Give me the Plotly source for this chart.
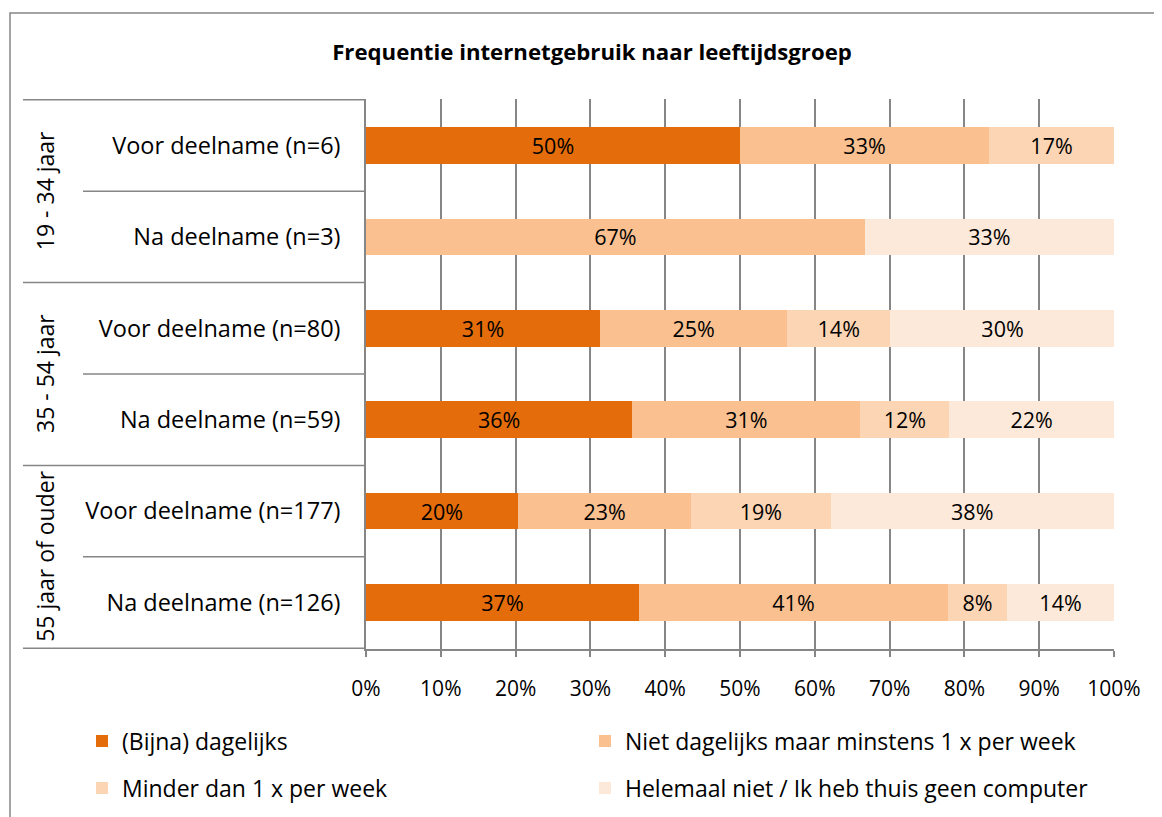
import math
import plotly.graph_objects as go

# ---- data ----
row_labels = ["Voor deelname (n=6)", "Na deelname (n=3)",
              "Voor deelname (n=80)", "Na deelname (n=59)",
              "Voor deelname (n=177)", "Na deelname (n=126)"]
group_labels = ["19 - 34 jaar", "35 - 54 jaar", "55 jaar of ouder"]
series_names = ["(Bijna) dagelijks",
                "Niet dagelijks maar minstens 1 x per week",
                "Minder dan 1 x per week",
                "Helemaal niet / Ik heb thuis geen computer"]
dagelijks = [50.0, 0.0, 31.3, 35.6, 20.3, 36.5]
wekelijks = [33.3, 66.7, 25.0, 30.5, 23.2, 41.3]
minder = [16.7, 0.0, 13.8, 11.9, 18.6, 7.9]
helemaal = [0.0, 33.3, 30.0, 22.0, 37.9, 14.3]
x_ticks = [0, 10, 20, 30, 40, 50, 60, 70, 80, 90, 100]

series_values = [dagelijks, wekelijks, minder, helemaal]
colors = ["#E46C0A", "#FAC090", "#FCD5B5", "#FDE9D9"]

FONT = "Open Sans"
W, H = 1162, 817
OFF = 8  # page body margin
ML, MT = 366 - OFF, 99 - OFF
MR, MB = W - (1114 - OFF), H - (649 - OFF)
PW, PH = W - ML - MR, H - MT - MB


def fx(px):  # reference pixel x -> paper x
    return (px - 366) / PW


def fy(py):  # reference pixel y -> paper y
    return (649 - py) / PH


def pct(v):
    return f"{int(math.floor(v + 0.5))}%" if v > 0 else ""


fig = go.Figure()
for i, (name, vals, col) in enumerate(zip(series_names, series_values, colors)):
    fig.add_trace(go.Bar(
        y=row_labels, x=vals, name=name, orientation="h",
        marker=dict(color=col, line=dict(width=0)),
        text=[pct(v) for v in vals],
        textposition="inside", insidetextanchor="middle", textangle=0,
        textfont=dict(family=FONT, size=21.5, color="black"),
        constraintext="none",
        hoverinfo="skip",
        legend="legend" if i < 2 else "legend2",
    ))

legend_common = dict(orientation="h", x=fx(82), xanchor="left", yanchor="middle",
                     entrywidth=458, entrywidthmode="pixels",
                     font=dict(family=FONT, size=23), itemwidth=30,
                     traceorder="normal", bgcolor="rgba(0,0,0,0)")

fig.update_layout(
    width=W, height=H,
    margin=dict(l=ML, r=MR, t=MT, b=MB, autoexpand=False),
    barmode="stack", bargap=0.6,
    plot_bgcolor="white", paper_bgcolor="white",
    font=dict(family=FONT, size=21, color="black"),
    title=dict(text="<b>Frequentie internetgebruik naar leeftijdsgroep</b>",
               x=(592 - OFF) / W, xanchor="center", y=1 - (52 - OFF) / H,
               yanchor="middle",
               font=dict(family=FONT, size=22.2, color="black")),
    xaxis=dict(range=[0, 100], tickvals=x_ticks,
               ticktext=[f"{t}%" for t in x_ticks],
               showgrid=True, gridcolor="#868686", gridwidth=1.5,
               showline=True, linecolor="#868686", linewidth=1.5,
               ticks="outside", ticklen=6, tickcolor="#868686", tickwidth=1.5,
               ticklabelstandoff=14,
               tickfont=dict(family=FONT, size=21), zeroline=False,
               fixedrange=True, automargin=False),
    yaxis=dict(categoryorder="array", categoryarray=row_labels,
               autorange="reversed", showline=True, linecolor="#868686",
               linewidth=1.5, ticks="", ticklabelstandoff=19,
               tickfont=dict(family=FONT, size=23.5), showgrid=False,
               fixedrange=True, automargin=False),
    legend=dict(legend_common, y=fy(741)),
    legend2=dict(legend_common, y=fy(788)),
    showlegend=True,
)

shapes = []
# outer chart border
shapes.append(dict(type="rect", xref="paper", yref="paper",
                   x0=fx(10), x1=fx(1200), y0=fy(850), y1=fy(13),
                   line=dict(color="#868686", width=1.5), fillcolor="rgba(0,0,0,0)",
                   layer="below"))
# category dividers
for k in range(len(row_labels) + 1):
    yb = k - 0.5
    x0 = 23 if k % 2 == 0 else 83
    shapes.append(dict(type="line", xref="paper", yref="y",
                       x0=fx(x0), x1=0, y0=yb, y1=yb,
                       line=dict(color="#868686", width=1.5)))
fig.update_layout(shapes=shapes)

# group labels
for g, lab in enumerate(group_labels):
    fig.add_annotation(text=lab, xref="paper", yref="y",
                       x=fx(45), y=2 * g + 0.5, showarrow=False,
                       textangle=-90, xanchor="center", yanchor="middle",
                       font=dict(family=FONT, size=23, color="black"))

fig.write_html("out.html")
